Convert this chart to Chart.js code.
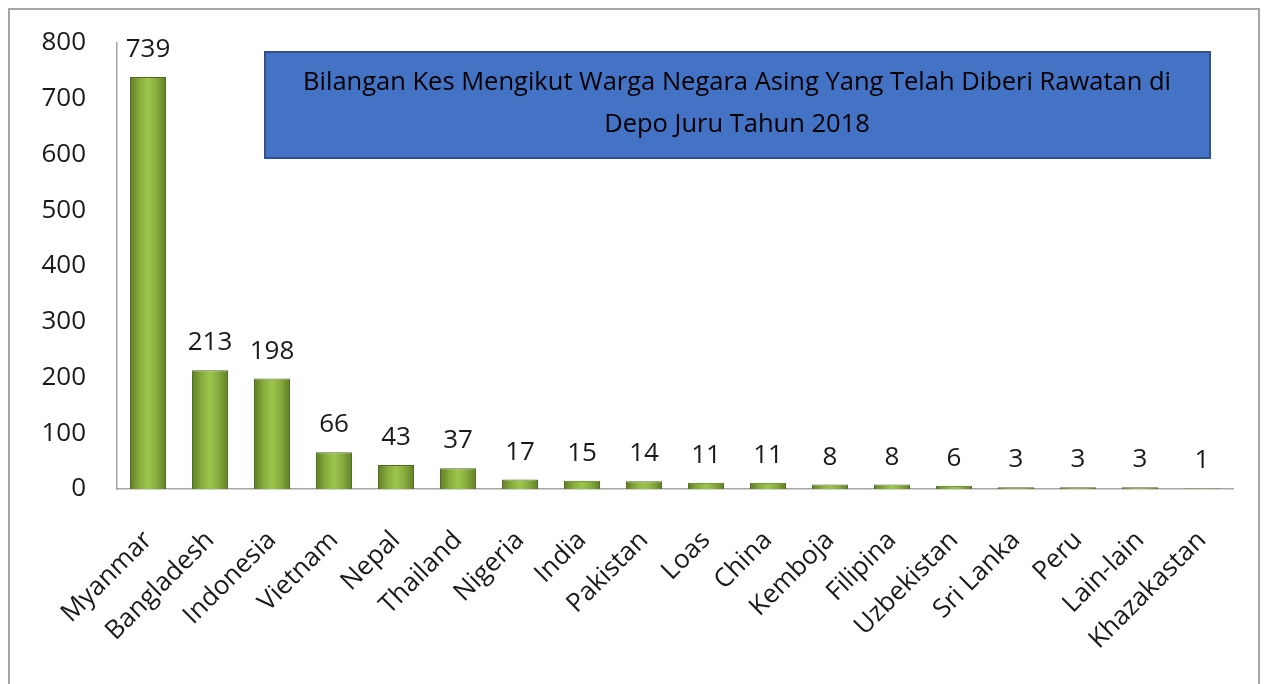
<!DOCTYPE html>
<html>
<head>
<meta charset="utf-8">
<script src="https://cdn.jsdelivr.net/npm/chart.js@4"></script>
<style>
  html, body { margin: 0; padding: 0; background: #fff; }
  #wrap { position: relative; width: 1265px; height: 684px; overflow: hidden; }
  #frame { position: absolute; left: 8px; top: 8px; width: 1252px; height: 700px; border: 2px solid #a6a6a6; box-sizing: border-box; pointer-events: none; }
  canvas { position: absolute; left: 0; top: 0; }
</style>
</head>
<body>
<div id="wrap">
  <canvas id="barChart" width="1265" height="684"></canvas>
  <div id="frame"></div>
</div>
<script>
// Data
const countries = ['Myanmar', 'Bangladesh', 'Indonesia', 'Vietnam', 'Nepal', 'Thailand', 'Nigeria', 'India',
    'Pakistan', 'Loas', 'China', 'Kemboja', 'Filipina', 'Uzbekistan', 'Sri Lanka', 'Peru', 'Lain-lain', 'Khazakastan'];
const cases = [739, 213, 198, 66, 43, 37, 17, 15, 14, 11, 11, 8, 8, 6, 3, 3, 3, 1];
const yTicks = [0, 100, 200, 300, 400, 500, 600, 700, 800];
const titleLines = ['Bilangan Kes Mengikut Warga Negara Asing Yang Telah Diberi Rawatan di', 'Depo Juru Tahun 2018'];

const FONT = "'Open Sans', 'Noto Sans', sans-serif";
const BAR_FRACTION = 0.58;

// Green bar with darker edges, lighter centre
function barGradient(context) {
    const chart = context.chart;
    const xScale = chart.scales.x;
    if (!xScale || context.dataIndex === undefined) return '#8cb544';
    const cx = xScale.getPixelForValue(context.dataIndex);
    const w = (xScale.width / countries.length) * BAR_FRACTION;
    if (!isFinite(cx) || !isFinite(w) || w <= 0) return '#8cb544';
    const g = chart.ctx.createLinearGradient(cx - w / 2, 0, cx + w / 2, 0);
    g.addColorStop(0, '#5f7d25');
    g.addColorStop(0.25, '#86aa3c');
    g.addColorStop(0.5, '#9cc64c');
    g.addColorStop(0.75, '#86aa3c');
    g.addColorStop(1, '#5f7d25');
    return g;
}

// Value labels above each bar
const valueLabels = {
    id: 'valueLabels',
    afterDatasetsDraw(chart) {
        const ctx = chart.ctx;
        const meta = chart.getDatasetMeta(0);
        ctx.save();
        ctx.font = '26px ' + FONT;
        ctx.fillStyle = '#1a1a1a';
        ctx.textAlign = 'center';
        ctx.textBaseline = 'alphabetic';
        meta.data.forEach(function (bar, i) {
            ctx.fillText(cases[i], bar.x, bar.y - 20);
        });
        ctx.restore();
    }
};

// Blue title box
const titleBox = {
    id: 'titleBox',
    afterDraw(chart) {
        const ctx = chart.ctx;
        ctx.save();
        ctx.fillStyle = '#4472c4';
        ctx.fillRect(265, 52, 945, 106);
        ctx.strokeStyle = '#2f528f';
        ctx.lineWidth = 2;
        ctx.strokeRect(265, 52, 945, 106);
        ctx.fillStyle = '#000';
        ctx.font = '25.5px ' + FONT;
        ctx.textAlign = 'center';
        ctx.textBaseline = 'middle';
        ctx.fillText(titleLines[0], 737, 83);
        ctx.fillText(titleLines[1], 737, 125);
        ctx.restore();
    }
};

const barChartCtx = document.getElementById('barChart').getContext('2d');
new Chart(barChartCtx, {
    type: 'bar',
    data: {
        labels: countries,
        datasets: [{
            data: cases,
            backgroundColor: barGradient,
            borderColor: '#4f6a1e',
            borderWidth: 1,
            barPercentage: BAR_FRACTION,
            categoryPercentage: 1,
        }]
    },
    options: {
        responsive: false,
        animation: false,
        layout: { padding: { top: 43, right: 32, left: 0, bottom: 0 } },
        plugins: {
            legend: { display: false },
            tooltip: { enabled: false },
        },
        scales: {
            x: {
                grid: { display: false, drawTicks: false },
                border: { color: '#a6a6a6', width: 1.5 },
                ticks: {
                    autoSkip: false,
                    minRotation: 45,
                    maxRotation: 45,
                    padding: 36,
                    color: '#1a1a1a',
                    font: { family: FONT, size: 26 },
                },
                afterFit(scale) { scale.height = 195; },
            },
            y: {
                min: 0,
                max: 800,
                afterBuildTicks(scale) { scale.ticks = yTicks.map(v => ({ value: v })); },
                grid: { display: false, drawTicks: false },
                border: { color: '#a6a6a6', width: 1.5 },
                ticks: {
                    padding: 31,
                    color: '#1a1a1a',
                    font: { family: FONT, size: 26 },
                },
                afterFit(scale) {
                    scale.width = 117;
                    scale.paddingTop = 10;
                    scale.paddingBottom = 10;
                },
            }
        }
    },
    plugins: [valueLabels, titleBox]
});
</script>
</body>
</html>
